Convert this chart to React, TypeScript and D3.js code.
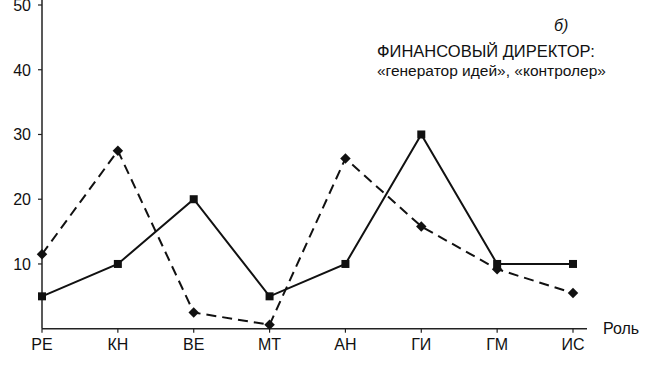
import { useEffect, useRef } from 'react';
import * as d3 from 'd3';

// roles along the x axis
const roles = ['РЕ', 'КН', 'ВЕ', 'МТ', 'АН', 'ГИ', 'ГМ', 'ИС'];
// solid line, square markers
const solidValues = [5, 10, 20, 5, 10, 30, 10, 10];
// dashed line, diamond markers
const dashedValues = [11.5, 27.5, 2.5, 0.6, 26.3, 15.8, 9.2, 5.5];
const yTicks = [10, 20, 30, 40, 50];

const W = 657;
const H = 368;

export default function App() {
  const svgRef = useRef<SVGSVGElement>(null);

  useEffect(() => {
    if (!svgRef.current) return;
    const svg = d3.select(svgRef.current);
    svg.selectAll('*').remove();

    const font = '"Liberation Sans", Arial, sans-serif';

    const x = d3.scalePoint<string>().domain(roles).range([42, 573]);
    const y = d3.scaleLinear().domain([0, 50]).range([328.7, 5]);

    // axes
    svg.append('line')
      .attr('x1', 42).attr('x2', 42)
      .attr('y1', 0).attr('y2', y(0))
      .attr('stroke', '#222').attr('stroke-width', 1.5);
    svg.append('line')
      .attr('x1', 42).attr('x2', 587)
      .attr('y1', y(0)).attr('y2', y(0))
      .attr('stroke', '#222').attr('stroke-width', 1.5);

    // y ticks and labels
    yTicks.forEach((t) => {
      svg.append('line')
        .attr('x1', 38).attr('x2', 42)
        .attr('y1', y(t)).attr('y2', y(t))
        .attr('stroke', '#222').attr('stroke-width', 1.2);
      svg.append('text')
        .attr('x', 31).attr('y', y(t))
        .attr('dy', '0.36em')
        .attr('text-anchor', 'end')
        .attr('font-family', font).attr('font-size', 16)
        .attr('fill', '#111')
        .text(String(t));
    });

    // x ticks and labels
    roles.forEach((r) => {
      svg.append('line')
        .attr('x1', x(r)!).attr('x2', x(r)!)
        .attr('y1', y(0)).attr('y2', y(0) + 4)
        .attr('stroke', '#222').attr('stroke-width', 1.2);
      svg.append('text')
        .attr('x', x(r)!).attr('y', 349.5)
        .attr('text-anchor', 'middle')
        .attr('font-family', font).attr('font-size', 16)
        .attr('fill', '#111')
        .text(r);
    });

    svg.append('text')
      .attr('x', 603).attr('y', 334)
      .attr('font-family', font).attr('font-size', 16)
      .attr('fill', '#111')
      .text('Роль');

    const line = d3.line<number>()
      .x((_, i) => x(roles[i])!)
      .y((d) => y(d));

    // dashed series
    svg.append('path')
      .datum(dashedValues)
      .attr('d', line)
      .attr('fill', 'none')
      .attr('stroke', '#111')
      .attr('stroke-width', 2)
      .attr('stroke-dasharray', '10,6');
    svg.selectAll('.diamond')
      .data(dashedValues)
      .enter()
      .append('path')
      .attr('class', 'diamond')
      .attr('d', d3.symbol().type(d3.symbolDiamond2).size(70))
      .attr('transform', (d, i) => `translate(${x(roles[i])},${y(d)})`)
      .attr('fill', '#111');

    // solid series
    svg.append('path')
      .datum(solidValues)
      .attr('d', line)
      .attr('fill', 'none')
      .attr('stroke', '#111')
      .attr('stroke-width', 2);
    svg.selectAll('.square')
      .data(solidValues)
      .enter()
      .append('rect')
      .attr('class', 'square')
      .attr('x', (_, i) => x(roles[i])! - 4)
      .attr('y', (d) => y(d) - 4)
      .attr('width', 8).attr('height', 8)
      .attr('fill', '#111');

    // annotation
    svg.append('text')
      .attr('x', 554).attr('y', 31)
      .attr('font-family', font).attr('font-size', 16)
      .attr('font-style', 'italic')
      .attr('fill', '#111')
      .text('б)');
    svg.append('text')
      .attr('x', 377).attr('y', 57)
      .attr('font-family', font).attr('font-size', 16.5)
      .attr('fill', '#111')
      .text('ФИНАНСОВЫЙ ДИРЕКТОР:');
    svg.append('text')
      .attr('x', 377).attr('y', 76)
      .attr('font-family', font).attr('font-size', 15.5)
      .attr('fill', '#111')
      .text('«генератор идей», «контролер»');
  }, []);

  return (
    <svg
      ref={svgRef}
      width={W}
      height={H}
      style={{ position: 'absolute', left: 0, top: 0, background: '#fff' }}
    />
  );
}
